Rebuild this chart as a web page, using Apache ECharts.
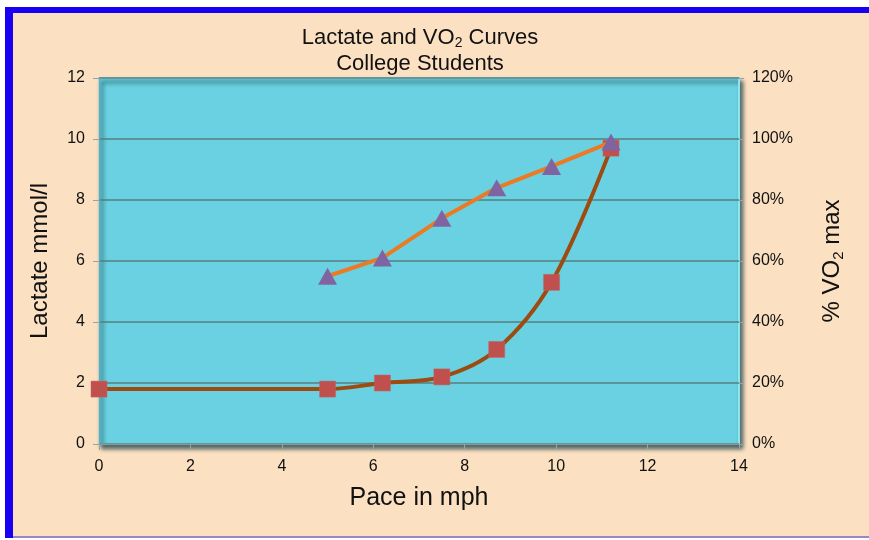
<!DOCTYPE html>
<html><head><meta charset="utf-8">
<script src="https://cdn.jsdelivr.net/npm/echarts@6/dist/echarts.min.js"></script>
<style>html,body{margin:0;padding:0;background:#fff}#c{width:869px;height:540px}</style>
</head><body><div id="c"></div>
<script>
const paceLactate = [0, 5, 6.2, 7.5, 8.7, 9.9, 11.2];
const lactate = [1.8, 1.8, 2.0, 2.2, 3.1, 5.3, 9.7];
const paceVO2 = [5, 6.2, 7.5, 8.7, 9.9, 11.2];
const vo2Pct = [55, 61, 74, 84, 91, 99];
const xTicks = [0, 2, 4, 6, 8, 10, 12, 14];

const chart = echarts.init(document.getElementById('c'));
const font = '"Liberation Sans", Arial, sans-serif';
chart.setOption({
  backgroundColor: '#ffffff',
  animation: false,
  graphic: [
    {type: 'rect', z: -10, shape: {x: 5, y: 7, width: 864, height: 531}, style: {fill: '#1a00f2'}},
    {type: 'rect', z: -9, shape: {x: 13, y: 13, width: 856, height: 523}, style: {fill: '#fce0c2'}},
    {type: 'rect', z: -9, shape: {x: 13, y: 536, width: 856, height: 2}, style: {fill: '#9a86c8'}}
  ],
  title: {
    left: 415, top: 20, textAlign: 'center',
    text: '{a|Lactate and VO}{s|2}{a| Curves}\n{a|College Students}',
    textStyle: {
      fontWeight: 'normal',
      rich: {
        a: {fontSize: 22, fontWeight: 'normal', fontFamily: font, color: '#111', lineHeight: 26},
        s: {fontSize: 14, fontWeight: 'normal', fontFamily: font, color: '#111', lineHeight: 26, padding: [11, 0, 0, 0]}
      }
    }
  },
  grid: {
    left: 99, right: 130, top: 78, bottom: 96, show: true,
    backgroundColor: '#69d1e1', borderColor: '#8fe4ee', borderWidth: 2,
    shadowColor: 'rgba(20,60,70,0.75)', shadowBlur: 4, shadowOffsetX: 3, shadowOffsetY: 4
  },
  xAxis: {
    type: 'value', min: 0, max: 14, interval: 2,
    name: 'Pace in mph', nameLocation: 'middle', nameGap: 42,
    nameTextStyle: {fontSize: 25, fontFamily: font, color: '#111'},
    axisLine: {show: true, lineStyle: {color: '#8a9a9a', width: 1}},
    axisTick: {show: true, length: 6, lineStyle: {color: '#9aa4a4'}},
    axisLabel: {fontSize: 16, fontFamily: font, color: '#111', margin: 15,
      formatter: v => xTicks.includes(v) ? String(v) : ''},
    splitLine: {show: false}
  },
  yAxis: [
    {
      type: 'value', min: 0, max: 12, interval: 2, position: 'left',
      name: 'Lactate mmol/l', nameLocation: 'middle', nameGap: 47, nameRotate: 90,
      nameTextStyle: {fontSize: 24, fontFamily: font, color: '#111'},
      axisLine: {show: true, lineStyle: {color: '#8a9a9a'}},
      axisTick: {show: true, length: 6, lineStyle: {color: '#9aa4a4'}},
      axisLabel: {fontSize: 16, fontFamily: font, color: '#111', margin: 14},
      splitLine: {show: true, lineStyle: {color: '#557f7e', width: 1.5}}
    },
    {
      type: 'value', min: 0, max: 120, interval: 20, position: 'right',
      name: '{a|% VO}{s|2}{a| max}', nameLocation: 'middle', nameGap: 80, nameRotate: 90,
      nameTextStyle: {rich: {
        a: {fontSize: 24, fontFamily: font, color: '#111'},
        s: {fontSize: 15, fontFamily: font, color: '#111', padding: [12, 0, 0, 0]}
      }},
      axisLine: {show: false},
      axisTick: {show: true, length: 5, lineStyle: {color: '#9aa4a4'}},
      axisLabel: {fontSize: 16, fontFamily: font, color: '#111', margin: 13, formatter: '{value}%'},
      splitLine: {show: false}
    }
  ],
  series: [
    {
      name: 'Lactate', type: 'line', yAxisIndex: 0, smooth: 0.35,
      data: paceLactate.map((p, i) => [p, lactate[i]]),
      lineStyle: {color: '#9d4b0f', width: 4},
      symbol: 'rect', symbolSize: 16,
      itemStyle: {color: '#c0504d', borderColor: '#c86060', borderWidth: 0.5},
      z: 3
    },
    {
      name: 'VO2', type: 'line', yAxisIndex: 1, smooth: false,
      data: paceVO2.map((p, i) => [p, vo2Pct[i]]),
      lineStyle: {color: '#ec7a22', width: 4},
      symbol: 'triangle', symbolSize: [19, 17],
      itemStyle: {color: '#8064a2'},
      z: 4
    }
  ]
});
</script></body></html>
